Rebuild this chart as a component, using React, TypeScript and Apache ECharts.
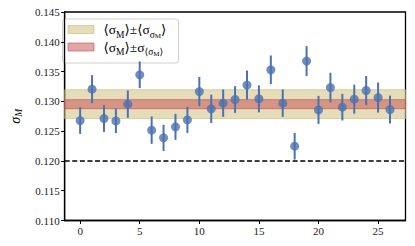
import React, { useEffect, useRef } from "react";
import * as echarts from "echarts";

const indices = [0,1,2,3,4,5,6,7,8,9,10,11,12,13,14,15,16,17,18,19,20,21,22,23,24,25,26];
const sigmaM = [0.12678,0.13205,0.12711,0.12672,0.12953,0.13446,0.12516,0.12387,0.12572,0.12689,0.13165,0.12874,0.1297,0.13031,0.13273,0.13042,0.1353,0.1297,0.12247,0.13676,0.12857,0.13232,0.12903,0.13037,0.13182,0.13064,0.12862];
const sigmaErr = [0.00224,0.00235,0.00224,0.00205,0.0023,0.00224,0.0023,0.00219,0.00219,0.00219,0.00246,0.00238,0.0023,0.00224,0.00244,0.00227,0.0024,0.0023,0.00224,0.00252,0.00235,0.00249,0.00224,0.00244,0.00244,0.00252,0.00235];
const meanSigma = 0.12953;
const meanErr = 0.00242;
const stdOfMean = 0.00076;
const refLine = 0.12;
const xTicks = [0, 5, 10, 15, 20, 25];
const legendLabels = [
  "{n|⟨σ}{s|M}{n|⟩±⟨σ}{s|σ}{ss|M}{n|⟩}",
  "{n|⟨σ}{s|M}{n|⟩±σ}{s|⟨σ}{ss|M}{s|⟩}",
];

const BLUE = "#4c72b0";
const YELLOW = "rgba(204,185,116,0.5)";
const YELLOW_EDGE = "rgba(204,185,116,0.6)";
const RED = "rgba(196,78,82,0.5)";
const RED_EDGE = "rgba(196,78,82,0.6)";
const FONT = "Liberation Serif, DejaVu Serif, serif";

const richSub = {
  n: { fontSize: 13.5, fontFamily: FONT, fill: "#000", color: "#000", lineHeight: 16, verticalAlign: "middle" as const },
  s: { fontSize: 9.5, fontFamily: FONT, fill: "#000", color: "#000", lineHeight: 18, verticalAlign: "bottom" as const },
  ss: { fontSize: 7, fontFamily: FONT, fill: "#000", color: "#000", lineHeight: 20, verticalAlign: "bottom" as const },
};

export default function App() {
  const ref = useRef<HTMLDivElement>(null);
  useEffect(() => {
    document.body.style.margin = "0";
    const chart = echarts.init(ref.current!, null, { renderer: "svg" });
    const points = indices.map((x, i) => [x, sigmaM[i]]);
    const bars = indices.map((x, i) => [x, sigmaM[i], sigmaErr[i]]);
    chart.setOption({
      animation: false,
      grid: { left: 57, top: 12, right: 9.5, bottom: 25.5, show: true, borderColor: "#000", borderWidth: 1.3, backgroundColor: "transparent" },
      xAxis: {
        type: "value",
        min: -1.3,
        max: 27.3,
        splitLine: { show: false },
        axisLine: { show: true, onZero: false, lineStyle: { color: "#000", width: 1.3 } },
        axisTick: { show: true, customValues: xTicks, length: 3.5, lineStyle: { color: "#000", width: 1 } },
        axisLabel: { customValues: xTicks, color: "#222", fontFamily: FONT, fontSize: 11, margin: 5 },
      },
      yAxis: {
        type: "value",
        min: 0.11,
        max: 0.145,
        interval: 0.005,
        name: "{a|σ}{b|M}",
        nameLocation: "middle",
        nameGap: 37,
        nameRotate: 90,
        nameTextStyle: {
          rich: {
            a: { fontSize: 14, fontFamily: FONT, fontStyle: "italic", color: "#000", lineHeight: 18, verticalAlign: "middle" },
            b: { fontSize: 9.5, fontFamily: FONT, fontStyle: "italic", color: "#000", lineHeight: 18, verticalAlign: "bottom" },
          },
        },
        splitLine: { show: false },
        axisLine: { show: true, onZero: false, lineStyle: { color: "#000", width: 1.3 } },
        axisTick: { show: true, length: 3.5, lineStyle: { color: "#000", width: 1 } },
        axisLabel: { color: "#222", fontFamily: FONT, fontSize: 11, margin: 5, formatter: (v: number) => v.toFixed(3) },
      },
      series: [
        {
          type: "line",
          data: [],
          silent: true,
          markArea: {
            silent: true,
            data: [
              [
                { yAxis: meanSigma - meanErr, itemStyle: { color: YELLOW, borderColor: YELLOW_EDGE, borderWidth: 1 } },
                { yAxis: meanSigma + meanErr },
              ],
              [
                { yAxis: meanSigma - stdOfMean, itemStyle: { color: RED, borderColor: RED_EDGE, borderWidth: 1 } },
                { yAxis: meanSigma + stdOfMean },
              ],
            ],
          },
          markLine: {
            silent: true,
            symbol: "none",
            label: { show: false },
            lineStyle: { color: "#000", width: 1.6, type: [5, 2.6] },
            data: [{ yAxis: refLine }],
          },
        },
        {
          type: "custom",
          data: bars,
          z: 3,
          renderItem: (params: any, api: any) => {
            const x = api.value(0);
            const y = api.value(1);
            const e = api.value(2);
            const p1 = api.coord([x, y - e]);
            const p2 = api.coord([x, y + e]);
            return {
              type: "line",
              shape: { x1: p1[0], y1: p1[1], x2: p2[0], y2: p2[1] },
              style: { stroke: BLUE, lineWidth: 2 },
            };
          },
        },
        {
          type: "scatter",
          data: points,
          z: 4,
          symbol: "circle",
          symbolSize: 9,
          itemStyle: { color: BLUE },
        },
      ],
      graphic: [
        {
          type: "group",
          left: 62,
          top: 18.5,
          children: [
            { type: "rect", shape: { x: 0, y: 0, width: 116, height: 44, r: 3 }, style: { fill: "rgba(255,255,255,0.85)", stroke: "#d0d0d0", lineWidth: 1 } },
            { type: "rect", shape: { x: 5.5, y: 6.5, width: 26, height: 8 }, style: { fill: YELLOW, stroke: YELLOW_EDGE, lineWidth: 1 } },
            { type: "rect", shape: { x: 5.5, y: 24, width: 26, height: 8 }, style: { fill: RED, stroke: RED_EDGE, lineWidth: 1 } },
            { type: "text", x: 41, y: 10.5, style: { text: legendLabels[0], rich: richSub, fill: "#000", verticalAlign: "middle" } },
            { type: "text", x: 41, y: 28, style: { text: legendLabels[1], rich: richSub, fill: "#000", verticalAlign: "middle" } },
          ],
        },
      ],
    });
    return () => chart.dispose();
  }, []);
  return <div ref={ref} style={{ width: 415, height: 246 }} />;
}
